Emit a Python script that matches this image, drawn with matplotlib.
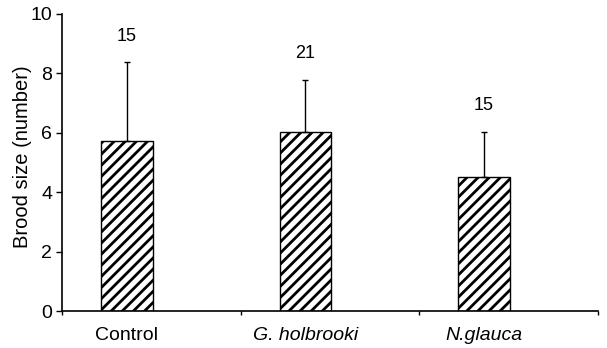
"""
Brood size per treatment, hatched bars with upper SD and sample sizes
"""
import matplotlib.pyplot as plt
import numpy as np

plt.rcParams['font.family'] = ['Liberation Sans', 'DejaVu Sans']
plt.rcParams['hatch.linewidth'] = 2.0

categories = ['Control', 'G. holbrooki', 'N.glauca']
italic = [False, True, True]
brood_mean = [5.72, 6.02, 4.51]
brood_sd = [2.65, 1.77, 1.52]
n_labels = ['15', '21', '15']


def plot_brood():
    fig = plt.figure(figsize=(6.07, 3.48), dpi=100)
    ax = fig.add_axes([0.102, 0.106, 0.883, 0.854])

    x = np.arange(len(categories)) - 0.137
    ax.bar(x, brood_mean, width=0.29, color='white', edgecolor='black',
           hatch='///', linewidth=1.0)
    ax.errorbar(x, brood_mean, yerr=[np.zeros(len(brood_sd)), brood_sd],
                fmt='none', ecolor='black', elinewidth=1.0, capsize=2.5, capthick=1.0)

    # sample sizes above the error bars
    for xi, m, s, lab in zip(x, brood_mean, brood_sd, n_labels):
        ax.text(xi, m + s + 0.6, lab, ha='center', va='bottom', fontsize=13)

    ax.set_xlim(-0.5, 2.5)
    ax.set_ylim(0, 10)
    ax.set_yticks(np.arange(0, 11, 2))
    ax.set_xticks([-0.5, 0.5, 1.5, 2.5])
    ax.set_xticklabels([])
    ax.tick_params(axis='x', length=3, width=1, direction='out')
    ax.tick_params(axis='y', length=4, width=1, labelsize=14, pad=3)

    for xi, lab, it in zip(x, categories, italic):
        ax.text(xi, -0.55, lab, ha='center', va='top', fontsize=14,
                style='italic' if it else 'normal')

    ax.set_ylabel('Brood size (number)', fontsize=14.5)
    ax.yaxis.set_label_coords(-0.056, 0.52)
    ax.spines['top'].set_visible(False)
    ax.spines['right'].set_visible(False)
    ax.spines['left'].set_linewidth(1.2)
    ax.spines['bottom'].set_linewidth(1.2)

    fig.savefig('out.png', dpi=100)


if __name__ == "__main__":
    plot_brood()
